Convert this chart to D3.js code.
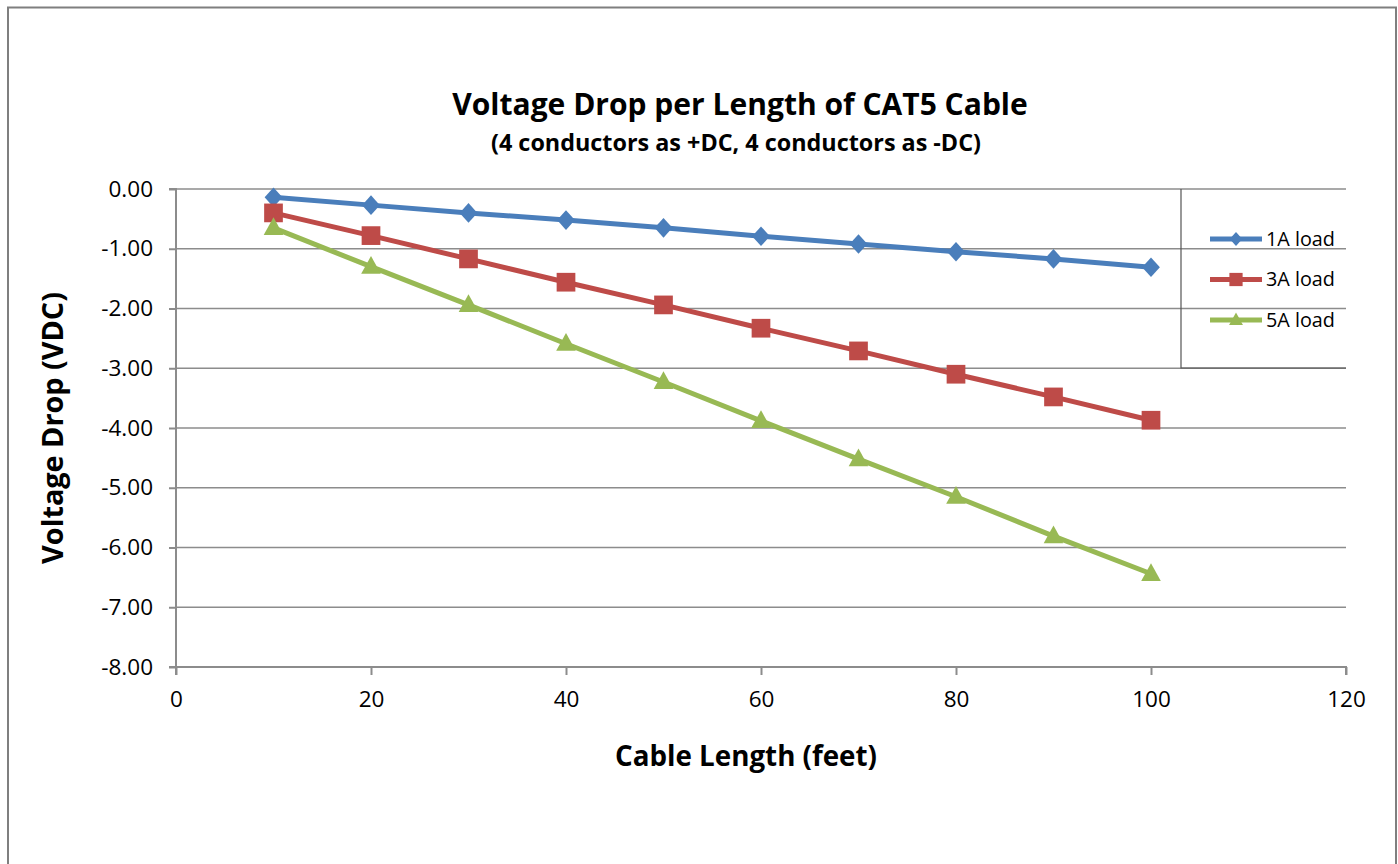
<!DOCTYPE html>
<html><head><meta charset="utf-8">
<script src="https://cdn.jsdelivr.net/npm/d3@7"></script>
<style>body{margin:0;background:#fff;} svg{display:block;} text{font-family:"Open Sans","Noto Sans",sans-serif;}</style>
</head><body>
<svg id="c" width="1398" height="864"></svg>
<script>
const lengths = [10,20,30,40,50,60,70,80,90,100];
const load1A = [-0.14,-0.27,-0.40,-0.52,-0.65,-0.79,-0.92,-1.05,-1.17,-1.31];
const load3A = [-0.40,-0.78,-1.17,-1.56,-1.94,-2.33,-2.71,-3.10,-3.48,-3.87];
const load5A = [-0.65,-1.30,-1.94,-2.59,-3.23,-3.88,-4.52,-5.15,-5.81,-6.44];
const seriesNames = ["1A load","3A load","5A load"];
const xTicks = [0,20,40,60,80,100,120];
const yTicks = [0,-1,-2,-3,-4,-5,-6,-7,-8];

const svg = d3.select("#c");
const colors = ["#4A7EBB","#BE4B48","#98B954"];
const diamond = {draw(ctx,size){const r=Math.sqrt(size)/2;ctx.moveTo(0,-r*1.05);ctx.lineTo(r*0.95,0);ctx.lineTo(0,r*1.05);ctx.lineTo(-r*0.95,0);ctx.closePath();}};
const triangle = {draw(ctx,size){const w=Math.sqrt(size)/2*1.05, h=Math.sqrt(size)*0.95;ctx.moveTo(0,-h*0.6);ctx.lineTo(w,h*0.4);ctx.lineTo(-w,h*0.4);ctx.closePath();}};
const shapes = [diamond, d3.symbolSquare, triangle];
const sizes = [350, 350, 350];
const series = [load1A, load3A, load5A].map((v,i)=>({name:seriesNames[i], values:v, color:colors[i], shape:shapes[i], size:sizes[i]}));

const x = d3.scaleLinear().domain([0,120]).range([176,1346]);
const y = d3.scaleLinear().domain([-8,0]).range([667,189]);
const grid = "#8c8c8c";

svg.append("rect").attr("x",8).attr("y",7.5).attr("width",1388).attr("height",900)
  .attr("fill","none").attr("stroke","#7f7f7f").attr("stroke-width",2);

svg.append("g").selectAll("line").data(yTicks.filter(d=>d!==-8)).join("line")
  .attr("x1",x(0)).attr("x2",x(120)).attr("y1",d=>y(d)).attr("y2",d=>y(d))
  .attr("stroke",grid).attr("stroke-width",1.5);

const yAxis = d3.axisLeft(y).tickValues(yTicks).tickFormat(d3.format(".2f")).tickSize(7).tickPadding(16);
const gy = svg.append("g").attr("transform",`translate(${x(0)},0)`).call(yAxis);
const xAxis = d3.axisBottom(x).tickValues(xTicks).tickSize(8).tickPadding(16);
const gx = svg.append("g").attr("transform",`translate(0,${y(-8)})`).call(xAxis);
[gx,gy].forEach(g=>{
  g.attr("font-size",null).attr("font-family",null);
  g.select(".domain").attr("stroke",grid).attr("stroke-width",2);
  g.selectAll(".tick line").attr("stroke",grid).attr("stroke-width",2);
  g.selectAll(".tick text").attr("fill","#000").attr("font-size",22.5);
});
gy.select(".domain").attr("d",`M-7,${y(-8)}H0V${y(0)}H-7`);
gx.select(".domain").attr("d",`M${x(0)},8V0H${x(120)}V8`);
gy.selectAll(".tick text").text(d=>d3.format(".2f")(d).replace("−","-"));

svg.append("path").attr("d",`M1181,189V368H1346`).attr("fill","none").attr("stroke","#555").attr("stroke-width",1.2);

const line = d3.line().x((d,i)=>x(lengths[i])).y(d=>y(d));
series.forEach(s=>{
  svg.append("path").attr("d",line(s.values)).attr("fill","none").attr("stroke",s.color).attr("stroke-width",5);
  svg.append("g").selectAll("path").data(s.values).join("path")
    .attr("d",d3.symbol().type(s.shape).size(s.size))
    .attr("transform",(d,i)=>`translate(${x(lengths[i])},${y(d)})`)
    .attr("fill",s.color);
});

function fit(sel, w){
  const cur = sel.node().getComputedTextLength();
  const fs = parseFloat(sel.style("font-size"));
  sel.style("font-size",(fs*w/cur)+"px");
}
series.forEach((s,i)=>{
  const ly = 239 + i*40.5;
  svg.append("line").attr("x1",1210).attr("x2",1262).attr("y1",ly).attr("y2",ly).attr("stroke",s.color).attr("stroke-width",5);
  svg.append("path").attr("d",d3.symbol().type(s.shape).size(s.size*0.5)).attr("transform",`translate(1236,${ly})`).attr("fill",s.color);
  const t = svg.append("text").attr("x",1266).attr("y",ly+6.5).text(s.name).style("font-size","18px");
  fit(t,69);
});

const t1 = svg.append("text").attr("x",740).attr("y",115).attr("text-anchor","middle").attr("font-weight","bold").style("font-size","27px").text("Voltage Drop per Length of CAT5 Cable");
fit(t1,576);
const t2 = svg.append("text").attr("x",736).attr("y",151).attr("text-anchor","middle").attr("font-weight","bold").style("font-size","20px").text("(4 conductors as +DC, 4 conductors as -DC)");
fit(t2,490);
const t3 = svg.append("text").attr("x",746).attr("y",766).attr("text-anchor","middle").attr("font-weight","bold").style("font-size","24px").text("Cable Length (feet)");
fit(t3,262);
const t4 = svg.append("text").attr("transform","translate(63,428) rotate(-90)").attr("text-anchor","middle").attr("font-weight","bold").style("font-size","24px").text("Voltage Drop (VDC)");
fit(t4,272);
</script>
</body></html>
